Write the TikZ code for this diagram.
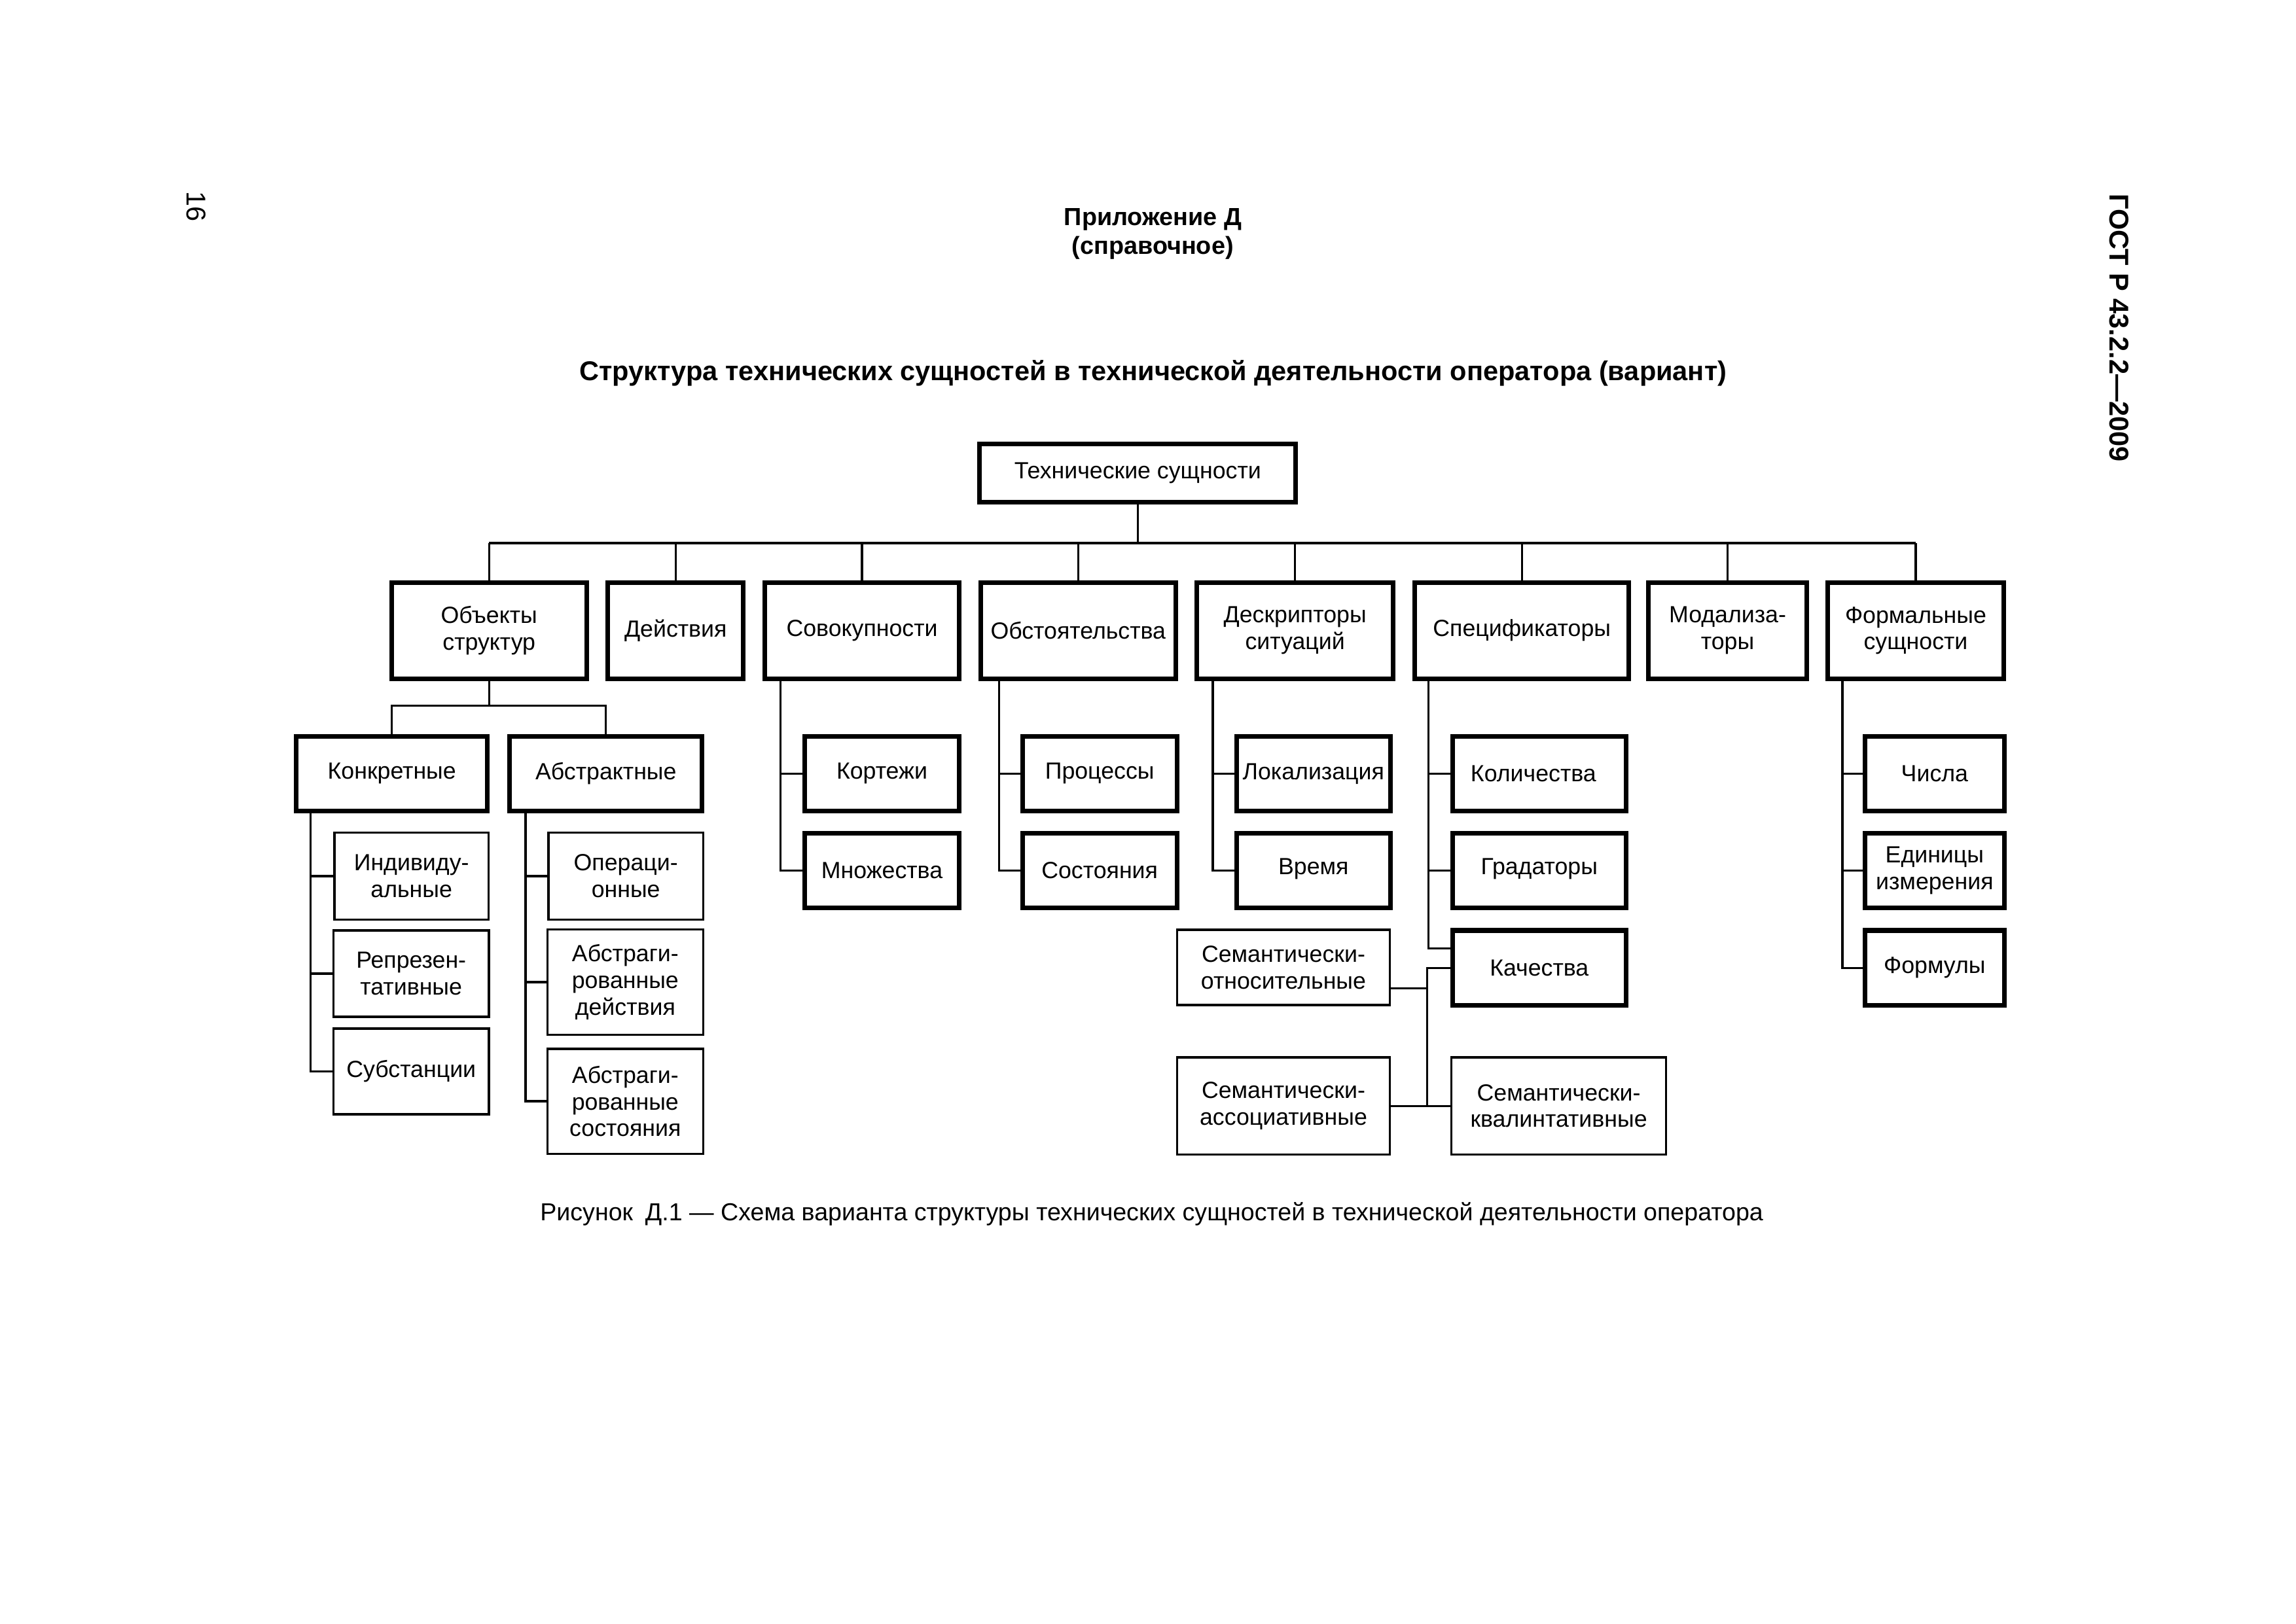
\documentclass[tikz,border=0pt]{standalone}
\usepackage{fontspec}
\setmainfont{Liberation Sans}
\usetikzlibrary{calc}
\newlength\U \setlength\U{0.018941cm}
\newcommand\fs{\fontsize{8.6}{9.8}\selectfont}
\begin{document}
\begin{tikzpicture}[x=0.018941cm, y=-0.018941cm,
  bx/.style={draw, line width=1.7pt, inner sep=0pt, align=center, font=\fs},
  tbx/.style={draw, line width=0.85pt, inner sep=0pt, align=center, font=\fs},
  sz/.style 2 args={minimum width=#1*\U, minimum height=#2*\U},
  ln/.style={line width=0.8pt}]
\path[fill=white] (0,0) rectangle (1568,1109);
% texts
\node[anchor=base, font=\bfseries\fontsize{9.1}{10}\selectfont] (h1) at (787.4,154) {Приложение Д};
\node[anchor=base, font=\bfseries\fontsize{9.1}{10}\selectfont] (h2) at (787.2,173.8) {(справочное)};
\node[anchor=base, font=\bfseries\fontsize{10}{12}\selectfont] (title) at (787.5,260) {Структура технических сущностей в технической деятельности оператора (вариант)};
\node[anchor=base, font=\fontsize{9.05}{11}\selectfont] (cap) at (786.5,834) {Рисунок\enspace Д.1 — Схема варианта структуры технических сущностей в технической деятельности оператора};
\node[rotate=-90, font=\bfseries\fontsize{10}{12}\selectfont] (gost) at (1447,224) {ГОСТ Р 43.2.2—2009};
\node[rotate=-90, font=\fontsize{10}{12}\selectfont] (pg) at (134,141) {16};
% root
\node[bx, sz={215.8}{39.8}] (root) at (777,323.25) {Технические сущности};
% level 1
\node[bx, sz={133.3}{65.8}] (obj) at (334,430.75) {Объекты\\структур};
\node[bx, sz={92.6}{65.8}] (dei) at (461.4,430.75) {Действия};
\node[bx, sz={132.6}{65.8}] (sov) at (588.7,430.75) {Совокупности};
\node[bx, sz={133.4}{65.8}] (obs) at (736.3,430.75) {Обстоятельства};
\node[bx, sz={134.1}{65.8}] (des) at (884.4,430.75) {Дескрипторы\\ситуаций};
\node[bx, sz={146.2}{65.8}] (spec) at (1039.3,430.75) {Спецификаторы};
\node[bx, sz={108.3}{65.8}] (mod) at (1179.8,430.75) {Модализа-\\торы};
\node[bx, sz={120.1}{65.8}] (form) at (1308.3,430.75) {Формальные\\сущности};
% level 2
\node[bx, sz={130.6}{51.2}] (konk) at (267.6,528.5) {Конкретные};
\node[bx, sz={131.3}{51.2}] (abst) at (413.8,528.5) {Абстрактные};
\node[bx, sz={105.4}{51.2}] (kort) at (602.3,528.5) {Кортежи};
\node[bx, sz={105.5}{51.2}] (proc) at (751,528.5) {Процессы};
\node[bx, sz={104.8}{51.2}] (lok) at (897,528.5) {Локализация};
\node[bx, sz={118.5}{51.2}] (kol) at (1051.2,528.5) {\hspace*{-8\U}Количества};
\node[bx, sz={95.3}{51.2}] (chis) at (1321.2,528.5) {Числа};
% level 3
\node[bx, sz={105.4}{51.1}] (mnozh) at (602.3,594.6) {Множества};
\node[bx, sz={105.5}{51.1}] (sost) at (751,594.6) {Состояния};
\node[bx, sz={104.8}{51.1}] (vrem) at (897,594.6) {\raisebox{5\U}{Время}};
\node[bx, sz={118.5}{51.1}] (grad) at (1051.2,594.6) {\raisebox{5\U}{Градаторы}};
\node[bx, sz={95.3}{51.1}] (edin) at (1321.2,594.6) {Единицы\\измерения};
% level 4
\node[bx, sz={118.5}{51.2}] (kach) at (1051.2,661.2) {Качества};
\node[bx, sz={95.3}{51.2}] (formul) at (1321.2,661.2) {Формулы};
% thin boxes
\node[tbx, sz={105.4}{59.4}] (ind) at (281,598.5) {Индивиду-\\альные};
\node[tbx, sz={106}{59.2}] (rep) at (280.8,665.1) {Репрезен-\\тативные};
\node[tbx, sz={106}{58.6}] (subst) at (280.8,731.9) {Субстанции};
\node[tbx, sz={105.7}{59.4}] (oper) at (427.4,598.5) {Операци-\\онные};
\node[tbx, sz={106.4}{72.1}] (absd) at (427,670.9) {Абстраги-\\рованные\\действия};
\node[tbx, sz={106.4}{71.8}] (abss) at (427,752.3) {Абстраги-\\рованные\\состояния};
\node[tbx, sz={145.4}{51.4}] (semo) at (876.5,660.9) {Семантически-\\относительные};
\node[tbx, sz={145.4}{66.2}] (sema) at (876.5,755.5) {Семантически-\\ассоциативные};
\node[tbx, sz={146.7}{66.2}] (semk) at (1064.5,755.5) {Семантически-\\квалинтативные};
% connectors
\coordinate (bus) at (777,371);
\draw[ln] (root.south) -- (root.south |- bus);
\draw[ln] (obj.north |- bus) -- (form.north |- bus);
\foreach \n in {obj,dei,sov,obs,des,spec,mod,form} \draw[ln] (\n.north) -- (\n.north |- bus);
\coordinate (oj) at ($(obj.south)+(0,16.8)$);
\draw[ln] (obj.south) -- (oj);
\draw[ln] (konk.north) |- (oj) -| (abst.north);
\coordinate (kv) at ($(konk.south west)+(11.3,0)$);
\foreach \n in {ind,rep,subst} \draw[ln] (kv) |- (\n.west);
\coordinate (av) at ($(abst.south west)+(12.3,0)$);
\foreach \n in {oper,absd,abss} \draw[ln] (av) |- (\n.west);
\coordinate (sv) at ($(sov.south west)+(12.2,0)$);
\foreach \n in {kort,mnozh} \draw[ln] (sv) |- (\n.west);
\coordinate (ov) at ($(obs.south west)+(14.4,0)$);
\foreach \n in {proc,sost} \draw[ln] (ov) |- (\n.west);
\coordinate (dv) at ($(des.south west)+(12.5,0)$);
\foreach \n in {lok,vrem} \draw[ln] (dv) |- (\n.west);
\coordinate (spv) at ($(spec.south west)+(11,0)$);
\foreach \n in {kol,grad} \draw[ln] (spv) |- (\n.west);
\draw[ln] (spv) |- ($(kach.west)+(0,-13.2)$);
\coordinate (fv) at ($(form.south west)+(11.6,0)$);
\foreach \n in {chis,edin,formul} \draw[ln] (fv) |- (\n.west);
\coordinate (kj) at ($(kach.west)+(-15.6,0)$);
\draw[ln] (kach.west) -- (kj) -- (kj |- sema.east);
\draw[ln] (sema.east) -- (semk.west);
\coordinate (so) at ($(semo.east)+(0,14.3)$);
\draw[ln] (so) -- (so -| kj);
\end{tikzpicture}
\end{document}
